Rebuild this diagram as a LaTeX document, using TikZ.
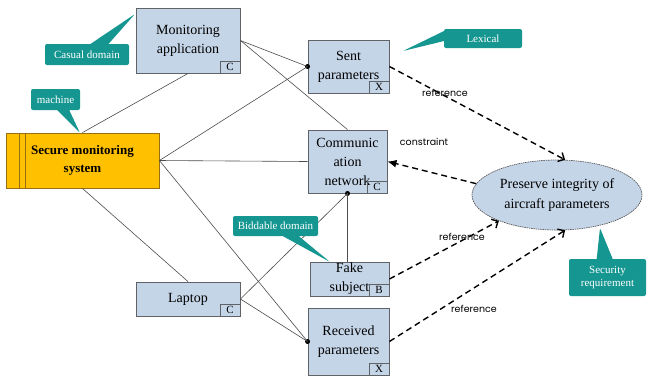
\documentclass[tikz,border=0pt]{standalone}
\usepackage{fontspec}
\setmainfont{Liberation Serif}
\newfontfamily\lblfont{Poppins}
\usetikzlibrary{arrows.meta,shapes.geometric,shapes.callouts}
\definecolor{boxfill}{RGB}{197,213,232}
\definecolor{boxline}{RGB}{95,99,104}
\definecolor{teal1}{RGB}{22,150,145}
\definecolor{orng}{RGB}{255,192,0}
\definecolor{orline}{RGB}{150,110,20}
\begin{document}
\begin{tikzpicture}[x=1pt,y=-1pt,
 dom/.style={draw=boxline, fill=boxfill, line width=0.9pt, align=center, font=\fontsize{14}{19}\selectfont, inner sep=0pt},
 tag/.style={draw=boxline, line width=0.8pt, anchor=south east, minimum width=20pt, minimum height=12pt, inner sep=0pt, font=\fontsize{11}{11}\selectfont},
 conn/.style={draw=gray!60!black, line width=0.6pt},
 dep/.style={dash pattern=on 6pt off 4pt, line width=1.4pt},
 lbl/.style={font=\lblfont\fontsize{9.5}{10}\selectfont},
 call/.style={rectangle callout, fill=teal1, text=white, rounded corners=2pt, inner sep=0pt, align=center, font=\fontsize{11}{13}\selectfont},
 dot/.style={circle, fill=black, inner sep=0pt, minimum size=5pt}
]
\useasboundingbox (0,0) rectangle (654,376);

% domains
\node[dom, minimum width=104pt, minimum height=65pt] (ma) at (188,40.5) {Monitoring\\application};
\node[tag] (mat) at (ma.south east) {C};
\node[dom, minimum width=81pt, minimum height=53pt] (sp) at (348.5,66.5) {Sent\\parameters};
\node[tag] (spt) at (sp.south east) {X};
\node[dom, minimum width=79pt, minimum height=63pt] (cn) at (347.5,161.5) {Communic\\ation\\network};
\node[tag] (cnt) at (cn.south east) {C};
\node[dom, minimum width=79pt, minimum height=34pt] (fs) at (349.5,279) {Fake\\subject};
\node[tag] (fst) at (fs.south east) {B};
\node[dom, minimum width=104pt, minimum height=34pt] (lp) at (188,299) {Laptop};
\node[tag] (lpt) at (lp.south east) {C};
\node[dom, minimum width=81pt, minimum height=67pt] (rp) at (348.5,341.5) {Received\\parameters};
\node[tag] (rpt) at (rp.south east) {X};

% machine
\node[fill=orng, draw=orline, line width=0.9pt, minimum width=153pt, minimum height=55pt, inner sep=0pt, align=center, font=\bfseries\fontsize{13}{18}\selectfont] (sms) at (82.5,160.5) {Secure monitoring\\system};
\draw[orline, line width=0.9pt] ([xshift=14pt]sms.north west) -- ([xshift=14pt]sms.south west);
\draw[orline, line width=0.9pt] ([xshift=20pt]sms.north west) -- ([xshift=20pt]sms.south west);

% requirement
\node[ellipse, draw=gray!70!black, dash pattern=on 1.5pt off 0.8pt, line width=0.7pt, fill=boxfill, minimum width=170pt, minimum height=70pt, inner sep=0pt, align=center, font=\fontsize{14}{20}\selectfont] (pe) at (557,195) {Preserve integrity of\\aircraft parameters};

% dots
\node[dot] (spd) at (sp.west) {};
\node[dot] (cnd) at (cn.south) {};
\node[dot] (rpd) at (rp.west) {};

% solid connectors
\draw[conn] (ma.east) -- (spd.center);
\draw[conn] (ma.east) -- (cn.north);
\draw[conn] (ma.south) -- (sms.north);
\draw[conn] (sms.east) -- (spd.center);
\draw[conn] (sms.east) -- (cn.west);
\draw[conn] (sms.east) -- (rpd.center);
\draw[conn] (sms.south) -- (lp.north);
\draw[conn] (lp.east) -- (rpd.center);
\draw[conn] (lp.east) -- (cnd.center);
\draw[conn] (cnd.center) -- (cnd.center |- fs.north);

% dashed dependencies
\draw[dep, -{Straight Barb[length=5pt,width=10pt]}] (sp.east) -- (pe.77);
\draw[dep, -{Latex[length=9pt,width=8pt]}] (pe.172) -- (cn.east);
\draw[dep, -{Straight Barb[length=5pt,width=10pt]}] (fs.east) -- (pe.204);
\draw[dep, -{Straight Barb[length=5pt,width=10pt]}] (rp.east) -- (pe.283);

% labels
\node[lbl] (l1) at (445,93) {reference};
\node[lbl] (l2) at (424,142) {constraint};
\node[lbl] (l3) at (462,237) {reference};
\node[lbl] (l4) at (474,309) {reference};

% callouts
\node[call, minimum width=84pt, minimum height=21pt, callout absolute pointer={(135,14)}, callout pointer width=18pt] (cd) at (87,54.5) {Casual domain};
\node[call, minimum width=49pt, minimum height=21pt, callout absolute pointer={(80,133)}, callout pointer width=12pt] (mc) at (55.5,99.5) {machine};
\node[call, minimum width=78pt, minimum height=19pt, callout absolute pointer={(403,51)}, callout pointer width=10pt] (lx) at (483,38.5) {Lexical};
\node[call, minimum width=85pt, minimum height=20pt, callout absolute pointer={(330,262)}, callout pointer width=16pt] (bd) at (275.5,226) {Biddable domain};
\node[call, minimum width=77pt, minimum height=37pt, callout absolute pointer={(600,228)}, callout pointer width=16pt] (sr) at (607.5,277.5) {Security\\requirement};
\end{tikzpicture}
\end{document}
